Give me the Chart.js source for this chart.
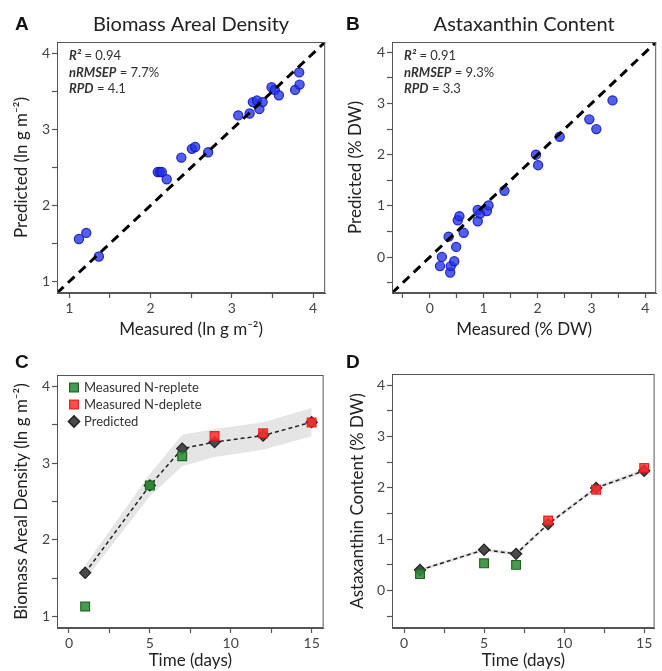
<!DOCTYPE html>
<html>
<head>
<meta charset="utf-8">
<script src="https://cdn.jsdelivr.net/npm/chart.js@4.4.1/dist/chart.umd.min.js"></script>
<style>
  body { margin: 0; background: #fff; width: 662px; height: 671px; position: relative; overflow: hidden; }
  canvas { position: absolute; }
</style>
</head>
<body>
<canvas id="chartA" width="331" height="340" style="left:0;top:0"></canvas>
<canvas id="chartB" width="331" height="340" style="left:331px;top:0"></canvas>
<canvas id="chartC" width="331" height="336" style="left:0;top:335px"></canvas>
<canvas id="chartD" width="331" height="336" style="left:331px;top:335px"></canvas>
<script>
// Biomass areal density, measured vs predicted (ln g m-2)
const biomassMeasured  = [1.12, 1.21, 1.365, 2.09, 2.115, 2.14, 2.20, 2.38, 2.51, 2.55, 2.71, 3.08, 3.22, 3.26, 3.31, 3.34, 3.38, 3.49, 3.53, 3.58, 3.78, 3.83, 3.835];
const biomassPredicted = [1.56, 1.64, 1.33, 2.44, 2.44, 2.44, 2.345, 2.63, 2.745, 2.77, 2.70, 3.185, 3.21, 3.36, 3.38, 3.27, 3.36, 3.555, 3.52, 3.45, 3.52, 3.75, 3.59];

// Astaxanthin content, measured vs predicted (% DW)
const astaMeasured  = [0.19, 0.225, 0.35, 0.38, 0.39, 0.455, 0.49, 0.52, 0.55, 0.63, 0.89, 0.89, 0.935, 1.06, 1.09, 1.385, 1.97, 2.01, 2.41, 2.96, 3.09, 3.39];
const astaPredicted = [-0.175, 0.005, 0.40, -0.30, -0.175, -0.08, 0.20, 0.72, 0.80, 0.475, 0.92, 0.70, 0.85, 0.90, 1.01, 1.295, 2.00, 1.795, 2.35, 2.69, 2.50, 3.06];

// time course
const days = [1, 5, 7, 9, 12, 15];
const repleteDays = [1, 5, 7];
const depleteDays = [9, 12, 15];

const biomassReplete  = [1.13, 2.71, 3.09];
const biomassDeplete  = [3.355, 3.39, 3.53];
const biomassTimePred = [1.57, 2.71, 3.19, 3.275, 3.36, 3.535];
const biomassUpper    = [1.67, 2.86, 3.37, 3.445, 3.535, 3.72];
const biomassLower    = [1.48, 2.57, 2.96, 3.08, 3.175, 3.35];

const astaReplete  = [0.32, 0.53, 0.50];
const astaDeplete  = [1.365, 1.965, 2.39];
const astaTimePred = [0.40, 0.795, 0.715, 1.295, 2.00, 2.335];
const astaUpper    = [0.43, 0.83, 0.75, 1.33, 2.04, 2.38];
const astaLower    = [0.37, 0.76, 0.68, 1.26, 1.96, 2.29];

// tick positions (labels only on whole numbers)
const ticksBiomass = [1, 1.5, 2, 2.5, 3, 3.5, 4];
const ticksAsta    = [-0.5, 0, 0.5, 1, 1.5, 2, 2.5, 3, 3.5, 4];
const ticksDays    = [0, 2.5, 5, 7.5, 10, 12.5, 15];

const FONT = 'Lato';

function pts(xs, ys) {
  return xs.map((x, i) => ({ x: x, y: ys[i] }));
}

function axis(opt) {
  return {
    type: 'linear',
    position: opt.isX ? 'bottom' : 'left',
    min: opt.min,
    max: opt.max,
    afterBuildTicks: s => { s.ticks = opt.ticks.map(v => ({ value: v })); },
    afterFit: s => { if (opt.isX) s.height = opt.size; else s.width = opt.size; },
    ticks: {
      autoSkip: false, maxRotation: 0, padding: 2, color: '#444',
      font: { family: FONT, size: 14 },
      callback: v => Number.isInteger(v) ? String(v) : ''
    },
    grid: { drawOnChartArea: false, tickLength: 5, tickColor: '#555', tickWidth: 1.2 },
    border: { color: '#555' },
    title: {
      display: true, text: opt.title, color: '#222',
      font: { family: FONT, size: 17 },
      padding: opt.isX ? { top: 0, bottom: opt.titlePad } : { top: opt.titlePad, bottom: 0 }
    }
  };
}

// frame, panel letter, heading, fit statistics and in-plot legend
const panelText = {
  id: 'panelText',
  afterDraw(chart, args, o) {
    const ctx = chart.ctx, a = chart.chartArea;
    ctx.save();
    ctx.strokeStyle = '#555';
    ctx.lineWidth = 1;
    ctx.strokeRect(a.left + 0.5, a.top + 0.5, a.width - 1, a.height - 1);

    ctx.fillStyle = '#111';
    ctx.textBaseline = 'alphabetic';
    ctx.font = 'bold 19px "Liberation Sans"';
    ctx.fillText(o.letter, 15, o.letterY);

    if (o.title) {
      ctx.font = '20px ' + FONT;
      ctx.fillStyle = '#222';
      ctx.textAlign = 'center';
      ctx.fillText(o.title, (a.left + a.right) / 2, 30.5);
      ctx.textAlign = 'left';
    }

    if (o.stats) {
      ctx.fillStyle = '#333';
      o.stats.forEach((line, i) => {
        let x = a.left + 12;
        const y = a.top + 18 + i * 16.7;
        line.forEach(run => {
          ctx.font = (run[1] === 'bi' ? 'italic bold 13px ' : '13px ') + FONT;
          ctx.fillText(run[0], x, y);
          x += ctx.measureText(run[0]).width;
        });
      });
    }

    if (o.legend) {
      let y = a.top + 12.5;
      chart.data.datasets.filter(d => d.legendLabel).forEach(d => {
        ctx.fillStyle = d.backgroundColor;
        ctx.strokeStyle = d.borderColor;
        ctx.lineWidth = d.borderWidth;
        Chart.helpers.drawPoint(ctx, { pointStyle: d.pointStyle, rotation: 0, radius: d.pointRadius, borderWidth: d.borderWidth }, a.left + 17, y);
        ctx.fillStyle = '#333';
        ctx.font = '13px ' + FONT;
        ctx.textBaseline = 'middle';
        ctx.fillText(d.legendLabel, a.left + 27, y + 0.5);
        ctx.textBaseline = 'alphabetic';
        y += 17;
      });
    }
    ctx.restore();
  }
};

function identityLine(lo, hi) {
  return {
    data: pts([lo, hi], [lo, hi]), showLine: true, pointRadius: 0,
    borderColor: '#000', borderWidth: 3, borderDash: [9, 6], order: 0
  };
}

function scatterSet(xs, ys) {
  return {
    data: pts(xs, ys), pointRadius: 4.6, pointStyle: 'circle',
    backgroundColor: 'rgba(35,50,230,0.78)', borderColor: 'rgba(20,25,190,0.9)', borderWidth: 1.2, order: 1
  };
}

function timeSets(replete, deplete, pred, upper, lower) {
  return [
    { legendLabel: 'Measured N-replete', data: pts(repleteDays, replete), pointStyle: 'rect', pointRadius: 6.2,
      backgroundColor: 'rgba(45,140,55,0.88)', borderColor: '#1c6622', borderWidth: 1.2, order: 0 },
    { legendLabel: 'Measured N-deplete', data: pts(depleteDays, deplete), pointStyle: 'rect', pointRadius: 6.2,
      backgroundColor: 'rgba(255,45,45,0.85)', borderColor: 'rgba(235,20,20,0.9)', borderWidth: 1.2, order: 0 },
    { legendLabel: 'Predicted', data: pts(days, pred), showLine: true, pointStyle: 'rectRot', pointRadius: 5.6,
      backgroundColor: '#4a4a4a', borderColor: '#222', borderWidth: 1.2,
      borderDash: [4, 3], borderDashOffset: 0, order: 1, lineBorderWidth: 1.5 },
    { data: pts(days, upper), showLine: true, pointRadius: 0, borderWidth: 0,
      borderColor: 'rgba(0,0,0,0)', backgroundColor: 'rgba(215,215,215,0.65)', fill: '+1', order: 2 },
    { data: pts(days, lower), showLine: true, pointRadius: 0, borderWidth: 0,
      borderColor: 'rgba(0,0,0,0)', backgroundColor: 'rgba(0,0,0,0)', fill: false, order: 3 }
  ];
}

function makeChart(id, p) {
  return new Chart(document.getElementById(id), {
    type: 'scatter',
    data: { datasets: p.datasets },
    options: {
      responsive: false,
      animation: false,
      events: [],
      layout: { padding: { top: p.top, right: p.right, left: 0, bottom: 0 } },
      elements: { line: { tension: 0 } },
      plugins: {
        legend: { display: false },
        tooltip: { enabled: false },
        panelText: p.text
      },
      scales: { x: p.x, y: p.y }
    },
    plugins: [panelText]
  });
}

// predicted line drawn thinner than its marker outline
Chart.defaults.datasets.scatter.showLine = false;

const predA = timeSets(biomassReplete, biomassDeplete, biomassTimePred, biomassUpper, biomassLower);
const predD = timeSets(astaReplete, astaDeplete, astaTimePred, astaUpper, astaLower);
[predA, predD].forEach(sets => {
  sets[2].segment = { borderWidth: 1.5 };
  sets[2].borderWidth = 1.5;
  sets[2].pointBorderWidth = 1.2;
});

makeChart('chartA', {
  top: 42, right: 3,
  datasets: [identityLine(0.85, 4.15), scatterSet(biomassMeasured, biomassPredicted)],
  x: axis({ isX: true, min: 0.85, max: 4.15, ticks: ticksBiomass, size: 47, title: 'Measured (ln g m\u207B\u00B2)', titlePad: 0 }),
  y: axis({ isX: false, min: 0.85, max: 4.15, ticks: ticksBiomass, size: 57, title: 'Predicted (ln g m\u207B\u00B2)', titlePad: 11 }),
  text: { letter: 'A', letterY: 30, title: 'Biomass Areal Density',
    stats: [[['R\u00B2', 'bi'], [' = 0.94', 'r']], [['nRMSEP', 'bi'], [' = 7.7%', 'r']], [['RPD', 'bi'], [' = 4.1', 'r']]] }
});

makeChart('chartB', {
  top: 42, right: 1,
  datasets: [identityLine(-0.7, 4.2), scatterSet(astaMeasured, astaPredicted)],
  x: axis({ isX: true, min: -0.7, max: 4.2, ticks: ticksAsta, size: 47, title: 'Measured (% DW)', titlePad: 0 }),
  y: axis({ isX: false, min: -0.7, max: 4.2, ticks: ticksAsta, size: 61, title: 'Predicted (% DW)', titlePad: 14 }),
  text: { letter: 'B', letterY: 30, title: 'Astaxanthin Content',
    stats: [[['R\u00B2', 'bi'], [' = 0.91', 'r']], [['nRMSEP', 'bi'], [' = 9.3%', 'r']], [['RPD', 'bi'], [' = 3.3', 'r']]] }
});

makeChart('chartC', {
  top: 40, right: 2,
  datasets: predA,
  x: axis({ isX: true, min: -0.74, max: 15.74, ticks: ticksDays, size: 43, title: 'Time (days)', titlePad: 0 }),
  y: axis({ isX: false, min: 0.85, max: 4.15, ticks: ticksBiomass, size: 57, title: 'Biomass Areal Density (ln g m\u207B\u00B2)', titlePad: 11 }),
  text: { letter: 'C', letterY: 33, legend: true }
});

makeChart('chartD', {
  top: 39, right: 1,
  datasets: predD,
  x: axis({ isX: true, min: -0.75, max: 15.65, ticks: ticksDays, size: 43, title: 'Time (days)', titlePad: 0 }),
  y: axis({ isX: false, min: -0.73, max: 4.22, ticks: ticksAsta, size: 61, title: 'Astaxanthin Content (% DW)', titlePad: 16 }),
  text: { letter: 'D', letterY: 33 }
});
</script>
</body>
</html>
